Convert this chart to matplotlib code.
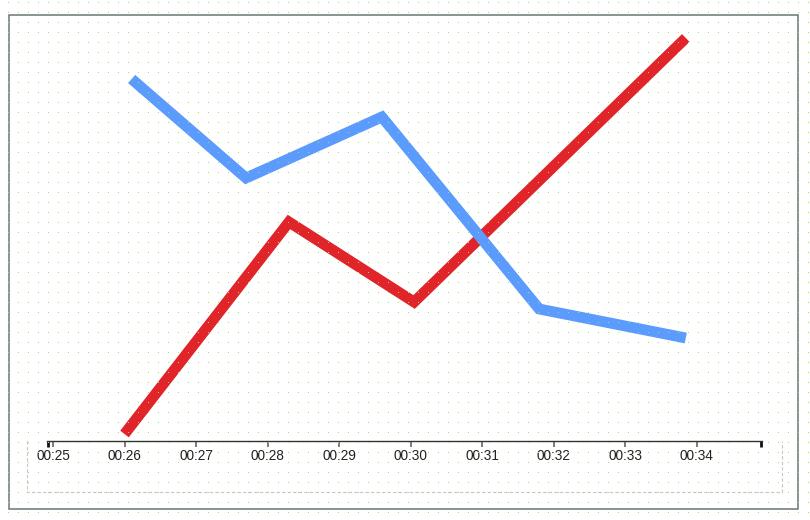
import numpy as np
import matplotlib as mpl
import matplotlib.pyplot as plt
from matplotlib.patches import Rectangle

# time in seconds, shown as mm:ss
tick_secs = [25, 26, 27, 28, 29, 30, 31, 32, 33, 34]
tick_labels = ['00:25', '00:26', '00:27', '00:28', '00:29',
               '00:30', '00:31', '00:32', '00:33', '00:34']

red_t = [26.0, 28.3, 30.05, 33.85]
red_v = [7, 219, 139, 403]

blue_t = [26.1, 27.7, 29.6, 31.8, 33.85]
blue_v = [362, 263, 324, 132, 103]

x_min, x_max = 24.916, 34.916

mpl.rcParams['font.family'] = 'Liberation Sans'

W, H = 810, 520
fig = plt.figure(figsize=(W / 100, H / 100), dpi=100)
fig.patch.set_facecolor('white')

# overlay in pixel coordinates: frame and dashed box
bg = fig.add_axes([0, 0, 1, 1], zorder=1)
bg.set_xlim(0, W)
bg.set_ylim(H, 0)
bg.axis('off')
bg.patch.set_visible(False)

bg.add_patch(Rectangle((9, 15), 789, 494, fill=False,
                       edgecolor='#6a7775', linewidth=1.1))
bg.plot([26.5, 26.5, 781.5, 781.5], [441, 491.5, 491.5, 441],
        color='#c6c6c6', linewidth=0.8, linestyle=(0, (3, 2)))

# main plotting area (pixel box 47..762 x 15..441)
ax = fig.add_axes([47 / W, (H - 441) / H, (762 - 47) / W, (441 - 15) / H],
                  zorder=5)
ax.set_facecolor('none')
ax.plot(red_t, red_v, color='#e0242a', linewidth=7.8,
        solid_capstyle='butt', solid_joinstyle='miter', zorder=3)
ax.plot(blue_t, blue_v, color='#5b9bfe', linewidth=7.8,
        solid_capstyle='butt', solid_joinstyle='miter', zorder=4)

ax.set_xlim(x_min, x_max)
ax.set_ylim(0, 426)
for s in ['top', 'left', 'right']:
    ax.spines[s].set_visible(False)
ax.spines['bottom'].set_color('#333333')
ax.spines['bottom'].set_linewidth(1.0)
ax.set_yticks([])
ax.set_xticks(tick_secs)
ax.set_xticklabels(tick_labels)
ax.tick_params(axis='x', direction='out', length=4, width=1.2,
               color='#666666', labelsize=9.8, labelcolor='#222222', pad=2)
ax.set_xticks([x_min + 0.01, x_max - 0.01], minor=True)
ax.tick_params(axis='x', which='minor', direction='out', length=4,
               width=2, color='#111111')

# 1-pixel dot grid on top of everything
dots = np.zeros((H, W, 4))
dots[2::10, 8::10] = [0.62, 0.90, 0.36, 1.0]
fig.figimage(dots, xo=0, yo=0, origin='upper', zorder=20)

fig.savefig('out.png', dpi=100)
